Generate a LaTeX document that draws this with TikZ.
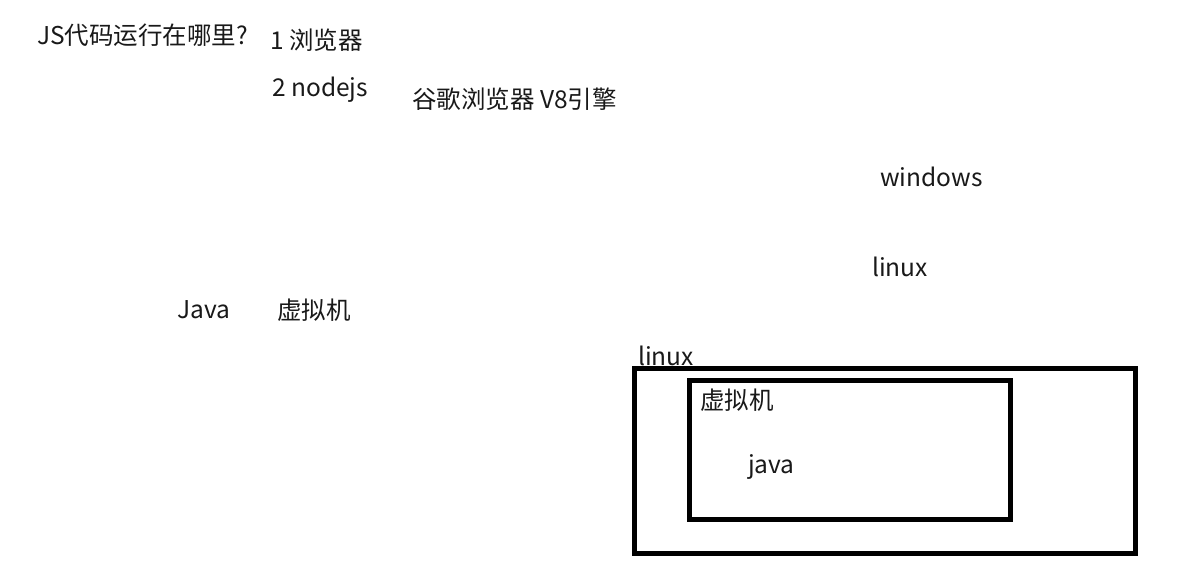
\documentclass[tikz,border=0pt]{standalone}
\usepackage{fontspec}
\setmainfont{Noto Sans CJK SC}
\begin{document}
\begin{tikzpicture}[x=1pt,y=-1pt,
  lbl/.style={anchor=west,inner sep=0pt,font=\fontsize{24.5}{28}\selectfont,text=black!90},
  frame/.style={draw=black,line width=5pt,inner sep=0pt,fill=none}]
\useasboundingbox[fill=white] (0,0) rectangle (1204,581);
\node[lbl] (q) at (37,35) {JS代码运行在哪里?};
\node[lbl] (b) at (270,40) {1 浏览器};
\node[lbl] (n) at (272,90) {2 nodejs};
\node[lbl] (v8) at (412,99) {谷歌浏览器 V8引擎};
\node[lbl] (win) at (880,177) {windows};
\node[lbl] (lin) at (872,267) {linux};
\node[lbl] (java) at (177,310) {Java};
\node[lbl] (vm) at (277,310) {虚拟机};
\node[frame,minimum width=501pt,minimum height=185pt] (os) at (885,461) {};
\node[frame,minimum width=321pt,minimum height=139pt] (box) at (850,450) {};
\node[lbl] (oslbl) at (638,356) {linux};
\node[lbl] (vmlbl) at (700,400) {虚拟机};
\node[lbl] (jv) at (748,467) {java};
\end{tikzpicture}
\end{document}
